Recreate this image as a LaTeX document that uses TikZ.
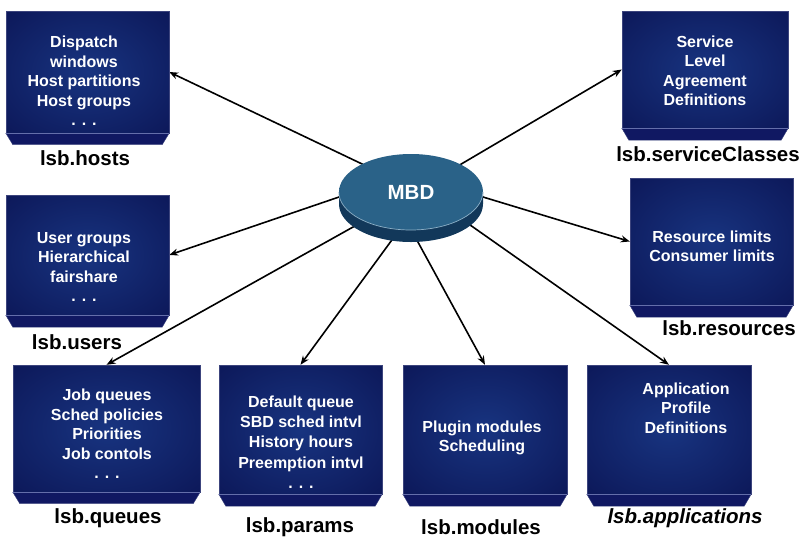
\documentclass[tikz,border=0pt]{standalone}
\usepackage{fontspec}
\setmainfont{Liberation Sans}
\usetikzlibrary{arrows.meta,calc,shapes.geometric,backgrounds}
\definecolor{boxin}{RGB}{24,52,128}
\definecolor{boxout}{RGB}{8,13,74}
\definecolor{boxedge}{RGB}{60,68,125}
\definecolor{bevelc}{RGB}{16,24,98}
\definecolor{bevelline}{RGB}{100,110,170}
\definecolor{diskin}{RGB}{42,98,136}
\definecolor{diskout}{RGB}{22,66,104}
\definecolor{diskside}{RGB}{18,56,90}
\definecolor{diskrim}{RGB}{140,175,198}
\pgfdeclareradialshading{boxshade}{\pgfpoint{0bp}{0bp}}{color(0bp)=(boxin); color(50bp)=(boxout); color(72bp)=(boxout)}
\pgfdeclareradialshading{diskshade}{\pgfpoint{0bp}{0bp}}{color(0bp)=(diskin); color(24bp)=(diskin); color(50bp)=(diskout); color(72bp)=(diskout)}
\tikzset{
  x=1pt, y=-1pt,
  lsfbox/.style={rectangle, draw=boxedge, line width=0.4pt, shading=boxshade, inner sep=0pt},
  bevel/.style={fill=bevelc, draw=boxedge, line width=0.4pt},
  bevtop/.style={draw=bevelline, line width=0.6pt},
  intext/.style={text=white, font=\fontsize{16}{19.5}\selectfont\bfseries, align=center, inner sep=0pt},
  lbl/.style={text=black, font=\fontsize{20.5}{24}\selectfont\bfseries, inner sep=0pt},
  conn/.style={draw=black, line width=1.6pt, -{Stealth[length=9pt,width=7pt]}},
}
\newcommand\bevelunder[2]{%
  \draw[bevel] (#1.south west) -- (#1.south east) -- ([xshift=-7pt,yshift=-#2pt]#1.south east) -- ([xshift=7pt,yshift=-#2pt]#1.south west) -- cycle;
  \draw[bevtop] (#1.south west) -- (#1.south east);}
\begin{document}
\begin{tikzpicture}
\useasboundingbox (0,0) rectangle (811,539);
% boxes
\node[lsfbox, minimum width=163pt, minimum height=122pt] (hosts) at (87.5,72) {};
\bevelunder{hosts}{11.5}
\node[lsfbox, minimum width=163pt, minimum height=120pt] (users) at (87.5,255) {};
\bevelunder{users}{12}
\node[lsfbox, minimum width=166pt, minimum height=117pt] (serv) at (705,69.5) {};
\bevelunder{serv}{12}
\node[lsfbox, minimum width=163pt, minimum height=127pt] (res) at (711.5,241.5) {};
\bevelunder{res}{12}
\node[lsfbox, minimum width=187pt, minimum height=127pt] (queues) at (106.5,428.5) {};
\bevelunder{queues}{11.5}
\node[lsfbox, minimum width=163pt, minimum height=129pt] (params) at (300.5,429.5) {};
\bevelunder{params}{12}
\node[lsfbox, minimum width=164pt, minimum height=129pt] (modules) at (485,429.5) {};
\bevelunder{modules}{12}
\node[lsfbox, minimum width=164pt, minimum height=129pt] (apps) at (669,429.5) {};
\bevelunder{apps}{12}
% box texts
\node[intext] (hostsT) at (84,81) {Dispatch\\windows\\Host partitions\\Host groups\\. . .};
\node[intext] (usersT) at (84,267) {User groups\\Hierarchical\\fairshare\\. . .};
\node[intext] (servT) at (705,71) {Service\\Level\\Agreement\\Definitions};
\node[intext] (resT) at (712,246.5) {Resource limits\\Consumer limits};
\node[intext] (queuesT) at (107,434) {Job queues\\Sched policies\\Priorities\\Job contols\\. . .};
\node[intext, font=\fontsize{16}{20.2}\selectfont\bfseries] (paramsT) at (301,442) {Default queue\\SBD sched intvl\\History hours\\Preemption intvl\\. . .};
\node[intext] (modulesT) at (482,438) {Plugin modules\\Scheduling};
\node[intext] (appsT) at (686,408) {Application\\Profile\\Definitions};
% labels
\node[lbl] (hostsL) at (85,158) {lsb.hosts};
\node[lbl] (usersL) at (77,342) {lsb.users};
\node[lbl] (servL) at (708,154) {lsb.serviceClasses};
\node[lbl] (resL) at (729,328) {lsb.resources};
\node[lbl] (queuesL) at (108,518) {lsb.queues};
\node[lbl] (paramsL) at (300,527) {lsb.params};
\node[lbl] (modulesL) at (481,527) {lsb.modules};
\node[lbl, font=\fontsize{20.5}{24}\selectfont\bfseries\itshape] (appsL) at (685,518) {lsb.applications};
% connector start points on the disk
\coordinate (m1) at (360,163);
\coordinate (m2) at (463,163);
\coordinate (m3) at (339,197);
\coordinate (m4) at (483,197);
\coordinate (m5) at (362,222);
\coordinate (m6) at (397,233);
\coordinate (m7) at (413,233);
\coordinate (m8) at (463,220);
\begin{scope}[on background layer]
\draw[conn] ($(m1)!-12pt!(hosts.east)$) -- (hosts.east);
\draw[conn] ($(m2)!-12pt!(serv.west)$) -- (serv.west);
\draw[conn] ($(m3)!-12pt!(users.east)$) -- (users.east);
\draw[conn] ($(m4)!-12pt!(res.west)$) -- (res.west);
\draw[conn] ($(m5)!-12pt!(queues.north)$) -- (queues.north);
\draw[conn] ($(m6)!-12pt!(params.north)$) -- (params.north);
\draw[conn] ($(m7)!-12pt!(modules.north)$) -- (modules.north);
\draw[conn] ($(m8)!-12pt!(apps.north)$) -- (apps.north);
\end{scope}
% disk
\fill[diskside] (339,192) -- (339,204) arc[start angle=180, end angle=0, x radius=72, y radius=38] -- (483,192) -- cycle;
\node[ellipse, minimum width=144pt, minimum height=76pt, shading=diskshade, inner sep=0pt, text=white, font=\fontsize{20.5}{24}\selectfont\bfseries] (mbd) at (411,192) {MBD};
\draw[diskrim, line width=0.7pt] (mbd.west) arc[start angle=180, end angle=0, x radius=72, y radius=38];
\end{tikzpicture}
\end{document}
